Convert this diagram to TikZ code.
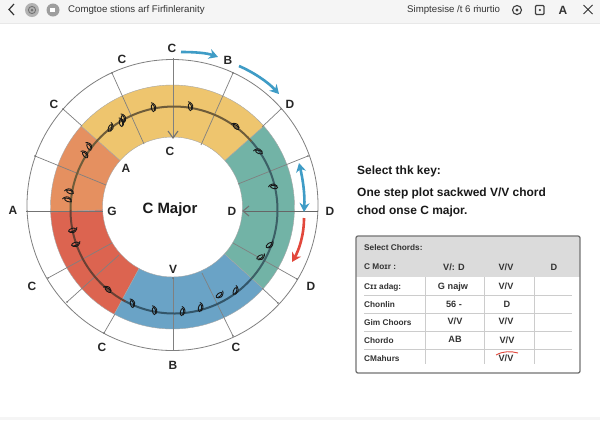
\documentclass[tikz,border=0pt]{standalone}
\usepackage{fontspec}
\setmainfont{Liberation Sans}
\usetikzlibrary{arrows.meta}
\definecolor{cyellow}{HTML}{EEC56E}
\definecolor{corange}{HTML}{E59060}
\definecolor{cred}{HTML}{DC6450}
\definecolor{cblue}{HTML}{6AA3C6}
\definecolor{cteal}{HTML}{72B3A6}
\definecolor{arblue}{HTML}{3F9CC6}
\definecolor{arred}{HTML}{E2483C}
\definecolor{spoke}{HTML}{808080}
\definecolor{scoreA}{HTML}{6E5C3A}
\definecolor{scoreB}{HTML}{3C6066}
\definecolor{scoreC}{HTML}{33566A}
\definecolor{scoreD}{HTML}{6A4034}
\tikzset{
  lab/.style={font=\fontsize{12}{12}\selectfont\bfseries,text=black!85,inner sep=0pt},
  seg/.style={draw=black!35,line width=.4bp},
  spokeline/.style={draw=spoke,line width=.7bp},
  marcblue/.style={draw=arblue,line width=2.6bp,-{Stealth[length=9bp,width=10bp]}},
  marcred/.style={draw=arred,line width=2.6bp,-{Stealth[length=9bp,width=10bp]}},
  body/.style={font=\fontsize{12}{14}\selectfont\bfseries,text=black!90,anchor=west,inner sep=0pt},
  cell/.style={font=\fontsize{9.2}{10}\selectfont\bfseries,text=black!80,inner sep=0pt},
  rowhead/.style={font=\fontsize{8.3}{10}\selectfont\bfseries,text=black!80,inner sep=0pt,anchor=west},
  rule/.style={draw=black!20,line width=.8bp},
  bartext/.style={font=\fontsize{9.7}{11}\selectfont,text=black!80,inner sep=0pt,anchor=west},
  baricon/.style={draw=black!75,line width=1.1bp},
  notemark/.style={line width=.9bp,draw=black!90},
  scoreline/.style={line width=2bp}
}
\newcommand{\ringseg}[3]{% colour, from, to
  \fill[#1] ([shift={(#2:122bp)}]cen) arc[start angle=#2,end angle=#3,radius=122bp]
    -- ([shift={(#3:70bp)}]cen) arc[start angle=#3,end angle=#2,radius=70bp] -- cycle;
  \draw[seg] ([shift={(#2:122bp)}]cen) arc[start angle=#2,end angle=#3,radius=122bp]
    -- ([shift={(#3:70bp)}]cen) arc[start angle=#3,end angle=#2,radius=70bp] -- cycle;
}
\newcommand{\notesign}[3]{% x,y,rotation
  \begin{scope}[shift={(#1,#2)},rotate=#3]
    \draw[notemark] (0,0) ellipse[x radius=1.6bp,y radius=3.6bp];
    \draw[notemark] (1.5,3) .. controls (3.5,1) and (3.5,-2) .. (1,-4.5) -- (-1,-5.5);
  \end{scope}
}
\begin{document}
\begin{tikzpicture}[x=1bp,y=-1bp]
\useasboundingbox (0,0) rectangle (600,420);
\fill[white] (0,0) rectangle (600,420);
% top bar
\fill[black!4] (0,0) rectangle (600,23);
\fill[black!9] (0,23) rectangle (600,24);
\fill[black!4] (0,417) rectangle (600,420);
\coordinate (chA) at (14,4); \coordinate (chB) at (9,9.5); \coordinate (chC) at (14,15);
\draw[black!80,line width=1.2bp] (chA) -- (chB) -- (chC);
\fill[black!30] (32,10) circle (7bp);
\draw[black!55,line width=.9bp] (32,10) circle (3.6bp);
\fill[black!55] (32,10) circle (1.5bp);
\fill[black!38] (53,10) circle (6.5bp);
\fill[white] (50,8) rectangle (55,12);
\node[bartext] (title) at (68,10) {Comgtoe stions arf Firfinleranity};
\node[bartext] (status) at (407,9.5) {Simptesise /t 6 ṁurtio};
\draw[baricon] (517,10) circle (4.5bp);
\fill[black!75] (517,10) circle (1.6bp);
\draw[baricon,rounded corners=1bp] (535.5,5.5) rectangle (544,14.5);
\fill[black!75] (539.8,10) circle (1.2bp);
\node[font=\fontsize{12}{12}\selectfont\bfseries,text=black!80,inner sep=0pt] (bigA) at (563,10) {A};
\draw[black!80,line width=1bp] (583.5,5) -- (592.5,14) (592.5,5) -- (583.5,14);
% wheel
\coordinate (cen) at (172.5,207);
\coordinate (mid) at (174,210);
\draw[spoke,line width=.8bp] (172.5,205) circle (145.5bp);
\ringseg{cyellow}{41.5}{138.5}
\ringseg{corange}{138.5}{182.4}
\ringseg{cred}{182.4}{241.5}
\ringseg{cblue}{241.5}{318}
\ringseg{cteal}{318}{401.5}
% spokes
\foreach \xa/\ya/\xb/\yb in {112/73/144/144, 63/109/82/126, 35/156/106/185, 233/73/201/145,
  281/109/262/127, 308/156/238/184, 297/279/233/243, 278/303/262/288, 233/336/202/273,
  48/278/112/243, 67/302/119/255, 104/333/115/314, 173/278/173/350}{
  \draw[spokeline] (\xa,\ya) -- (\xb,\yb);
  \fill[black!60] (\xa,\ya) circle (.8bp);
}
\draw[spokeline,line width=1bp] (173,58) -- (173,137);
\draw[draw=black!55,line width=1.1bp] (168,131) -- (173,138) -- (178,131);
\draw[draw=black!55,line width=.9bp] (26,211) -- (103,211);
\draw[draw=black!60,line width=1bp] (318,211) -- (243,211);
\draw[draw=black!55,line width=1.1bp] (249,206) -- (243,211) -- (249,216);
% score line
\draw[draw=scoreA,scoreline] ([shift={(180:103.5bp)}]mid) arc[start angle=180,end angle=41.5,radius=103.5bp];
\draw[draw=scoreB,scoreline] ([shift={(41.5:103.5bp)}]mid) arc[start angle=41.5,end angle=-42,radius=103.5bp];
\draw[draw=scoreC,scoreline] ([shift={(-42:103.5bp)}]mid) arc[start angle=-42,end angle=-118,radius=103.5bp];
\draw[draw=scoreD,scoreline] ([shift={(242:103.5bp)}]mid) arc[start angle=242,end angle=180,radius=103.5bp];
% note signs
\foreach \nx/\ny/\nr in {153/108/10, 123/119/15, 121/123/15, 110/128/-20, 89/147/30, 85/155/40, 70/192/70, 68/200/70,
  190/107/10, 236/127/50, 259/152/70, 274/187/80, 269/245/-50, 260/257/-60, 235/291/-20, 219/295/-50,
  200/308/-10, 182/312/-10, 154/311/10, 132/304/15, 108/290/50, 75/244/-70, 72/230/-70}{
  \notesign{\nx}{\ny}{\nr}
}
% outer labels
\foreach \nm/\px/\py/\tx in {o1/172/48/C, o2/228/60/B, o3/290/104/D, o4/330/211/D, o5/311/286/D,
  o6/236/347/C, o7/173/365/B, o8/102/347/C, o9/32/286/C, o10/13/210/A, o11/54/104/C, o12/122/59/C,
  i1/170/151/C, i2/126/168/A, i3/112/211/G, i4/232/211/D, i5/173/269/V}{
  \node[lab] (\nm) at (\px,\py) {\tx};
}
\node[font=\fontsize{15}{15}\selectfont\bfseries,text=black!90,inner sep=0pt] (key) at (170,210) {C Major};
% motion arrows
\coordinate (a1) at (181,52); \coordinate (a2) at (218,57);
\coordinate (b1) at (239,66); \coordinate (b2) at (279,94);
\coordinate (c1) at (299,163); \coordinate (c2) at (304,212);
\coordinate (d1) at (304,218); \coordinate (d2) at (292,262);
\draw[marcblue] (a1) .. controls (195,52) and (207,53) .. (a2);
\draw[marcblue] (b1) .. controls (253,72) and (268,82) .. (b2);
\draw[marcblue,{Stealth[length=9bp,width=10bp]}-{Stealth[length=9bp,width=10bp]}] (c1) .. controls (303,180) and (305,195) .. (c2);
\draw[marcred] (d1) .. controls (304,235) and (299,250) .. (d2);
% explanatory text
\node[body] (t1) at (357,171) {Select thk key:};
\node[body] (t2) at (357,193) {One step plot sackwed V/V chord};
\node[body] (t3) at (357,211) {chod onse C major.};
% table
\fill[white,rounded corners=2bp] (356,236) rectangle (580,373);
\begin{scope}
\clip[rounded corners=2bp] (356,236) rectangle (580,373);
\fill[black!14] (356,236) rectangle (580,277);
\end{scope}
\draw[black!55,line width=1.3bp,rounded corners=2bp] (356,236) rectangle (580,373);
\foreach \ry in {295,313,331,349}{ \draw[rule] (364,\ry) -- (572,\ry); }
\foreach \rx in {425,484,534}{ \draw[rule] (\rx,277) -- (\rx,364); }
\node[rowhead] (h0) at (364,248) {Select Chords:};
\node[rowhead] (h1) at (364,267) {C Moɪr :};
\node[cell] (h2) at (454,267) {V/: D};
\node[cell] (h3) at (506,267) {V/V};
\node[cell] (h4) at (554,267) {D};
\node[rowhead] (r1) at (364,287) {Cɪɪ adag:};
\node[cell] (r1a) at (453,287) {G najw};
\node[cell] (r1b) at (506,286) {V/V};
\node[rowhead] (r2) at (364,304.5) {Chonlin};
\node[cell] (r2a) at (454,304) {56 -};
\node[cell] (r2b) at (507,304) {D};
\node[rowhead] (r3) at (364,322.5) {Gim Choors};
\node[cell] (r3a) at (455,321) {V/V};
\node[cell] (r3b) at (506,321) {V/V};
\node[rowhead] (r4) at (364,340.5) {Chordo};
\node[cell] (r4a) at (455,339) {AB};
\node[cell] (r4b) at (507,340) {V/V};
\node[rowhead] (r5) at (364,358.5) {CMahurs};
\node[cell] (r5b) at (506,358) {V/V};
\draw[draw=arred,line width=.9bp] (496,355) .. controls (503,351) and (511,351) .. (518,353);
\end{tikzpicture}
\end{document}
